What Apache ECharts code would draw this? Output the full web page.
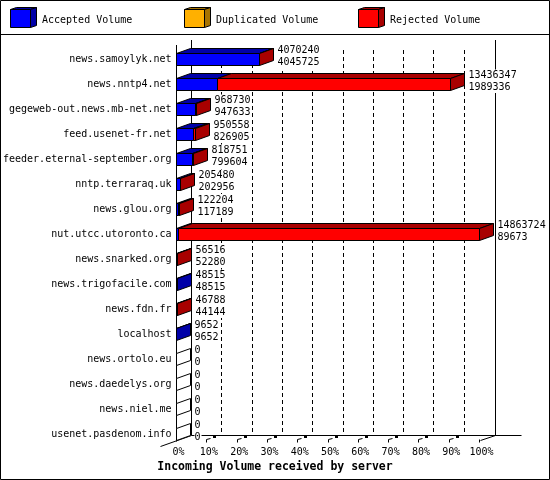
<!DOCTYPE html>
<html>
<head>
<meta charset="utf-8">
<script src="https://cdn.jsdelivr.net/npm/echarts@6/dist/echarts.min.js"></script>
<style>
html,body{margin:0;padding:0;background:#fff;}
#chart{width:550px;height:480px;}
</style>
</head>
<body>
<div id="chart"></div>
<script>
// ---- data ----
const hosts = [
  'news.samoylyk.net',
  'news.nntp4.net',
  'gegeweb-out.news.mb-net.net',
  'feed.usenet-fr.net',
  'feeder.eternal-september.org',
  'nntp.terraraq.uk',
  'news.glou.org',
  'nut.utcc.utoronto.ca',
  'news.snarked.org',
  'news.trigofacile.com',
  'news.fdn.fr',
  'localhost',
  'news.ortolo.eu',
  'news.daedelys.org',
  'news.niel.me',
  'usenet.pasdenom.info'
];
const totalVolume = [4070240, 13436347, 968730, 950558, 818751, 205480, 122204, 14863724, 56516, 48515, 46788, 9652, 0, 0, 0, 0];
const acceptedVolume = [4045725, 1989336, 947633, 826905, 799604, 202956, 117189, 89673, 52280, 48515, 44144, 9652, 0, 0, 0, 0];
const duplicatedVolume = [0, 0, 0, 0, 0, 0, 0, 0, 0, 0, 0, 0, 0, 0, 0, 0];
const seriesNames = ['Accepted Volume', 'Duplicated Volume', 'Rejected Volume'];
const tickLabels = ['0%', '10%', '20%', '30%', '40%', '50%', '60%', '70%', '80%', '90%', '100%'];
const axisTitle = 'Incoming Volume received by server';

// ---- styles ----
const frontColors = ['#0000ff', '#ffb000', '#ff0000'];
const darkColors = ['#0000a8', '#a87400', '#a80000'];
const FONT = '"DejaVu Sans Mono", "Liberation Mono", monospace';
const BAR_DX = 14, WALL_DX = 15, DY = 5, HALF = 6;

const rejectedVolume = totalVolume.map((t, i) => t - acceptedVolume[i] - duplicatedVolume[i]);
const maxV = Math.max.apply(null, totalVolume);
const barData = hosts.map((h, i) => [i, totalVolume[i], acceptedVolume[i], duplicatedVolume[i], rejectedVolume[i]]);

function crisp(v) { return Math.round(v - 0.5) + 0.5; }
const lineStyle = { stroke: '#000', lineWidth: 1 };

function renderFrame(params, api) {
  const cs = params.coordSys;
  const xAt = k => crisp(api.coord([maxV * k / 10, 0])[0]);
  const x0 = xAt(0), x10 = xAt(10);
  const floorF = api.coord([0, hosts.length - 1])[1] + HALF;
  const floorB = floorF - DY;
  const topB = cs.y - 7;
  const ch = [];
  const L = (x1, y1, x2, y2, extra) => ch.push({ type: 'line', shape: { x1, y1, x2, y2 }, style: Object.assign({}, lineStyle, extra || {}) });
  // dashed back grid lines
  for (let k = 1; k <= 9; k++) {
    const x = xAt(k) + WALL_DX;
    L(x, cs.y + 3, x, floorB, { lineDash: [4, 3] });
  }
  L(x0 + WALL_DX, topB, x0 + WALL_DX, floorB);           // back-left wall edge
  L(x10 + WALL_DX + 1, topB, x10 + WALL_DX + 1, floorB); // back-right wall edge
  L(x0 + WALL_DX, floorB, x10 + WALL_DX + 27, floorB);   // back floor line
  L(x0, cs.y - 2, x0, floorF + 1);                       // front-left edge
  L(x0 - 16, floorF + 6, x0 + WALL_DX, floorB);          // left floor diagonal
  L(x10 + 1, floorF, x10 + WALL_DX + 1, floorB);         // right floor diagonal
  // ticks
  for (let k = 1; k <= 10; k++) {
    const x = xAt(k);
    L(x, floorF + 2, x, floorF - 1);
    if (k < 10) {
      L(x, floorF - 1, x + 4, floorF - 2);
      ch.push({ type: 'rect', shape: { x: x + 6.5, y: floorF - 4.5, width: 3, height: 2 }, style: { fill: '#000' } });
    }
  }
  return { type: 'group', children: ch };
}

function renderBar(params, api) {
  const i = api.value(0);
  const total = api.value(1);
  const vals = [api.value(2), api.value(3), api.value(4)];
  const cy = api.coord([0, i])[1];
  const top = cy - HALF, bot = cy + HALF;
  const fronts = [], tops = [];
  let cum = 0, last = -1;
  for (let s = 0; s < 3; s++) {
    const xa = crisp(api.coord([cum, i])[0]);
    cum += vals[s];
    const xb = crisp(api.coord([cum, i])[0]);
    if (vals[s] > 0) {
      last = s;
      fronts.push({ type: 'polygon', shape: { points: [[xa, top], [xb, top], [xb, bot], [xa, bot]] },
        style: { fill: frontColors[s], stroke: '#000', lineWidth: 1 } });
      tops.push({ type: 'polygon', shape: { points: [[xa, top], [xb, top], [xb + BAR_DX, top - DY], [xa + BAR_DX, top - DY]] },
        style: { fill: darkColors[s], stroke: '#000', lineWidth: 1 } });
    }
  }
  const xe = crisp(api.coord([cum, i])[0]);
  const side = { type: 'polygon', shape: { points: [[xe, top], [xe + BAR_DX, top - DY], [xe + BAR_DX, bot - DY], [xe, bot]] },
    style: { fill: last >= 0 ? darkColors[last] : '#fff', stroke: '#000', lineWidth: 1 } };
  const lx = xe + BAR_DX + 4;
  const txt = (t, y) => ({ type: 'text', style: { text: t, x: lx, y: y, fill: '#000', font: '10px ' + FONT,
    align: 'left', verticalAlign: 'middle', backgroundColor: '#fff', padding: [1, 1, 1, 0] } });
  const labels = [txt(String(total), cy - 9), txt(String(vals[0]), cy + 2.5)];
  return { type: 'group', children: fronts.concat(tops, [side], labels) };
}

// legend drawn as 3D cubes
const legendX = [10, 184, 358];
const legendGraphics = [];
seriesNames.forEach((name, s) => {
  const x = legendX[s] + 0.5, y = 9.5;
  legendGraphics.push(
    { type: 'polygon', shape: { points: [[x, y], [x + 20, y], [x + 26, y - 2], [x + 6, y - 2]] }, style: { fill: darkColors[s], stroke: '#000', lineWidth: 1 } },
    { type: 'polygon', shape: { points: [[x + 20, y], [x + 26, y - 2], [x + 26, y + 16], [x + 20, y + 18]] }, style: { fill: darkColors[s], stroke: '#000', lineWidth: 1 } },
    { type: 'rect', shape: { x: x, y: y, width: 20, height: 18 }, style: { fill: frontColors[s], stroke: '#000', lineWidth: 1 } },
    { type: 'text', style: { text: name, x: legendX[s] + 32, y: 20, fill: '#000', font: '10px ' + FONT, align: 'left', verticalAlign: 'middle' } }
  );
});
legendGraphics.push(
  { type: 'rect', shape: { x: 0.5, y: 0.5, width: 549, height: 479 }, style: { fill: 'none', stroke: '#000', lineWidth: 1 }, z: 100 },
  { type: 'line', shape: { x1: 0, y1: 34.5, x2: 550, y2: 34.5 }, style: { stroke: '#000', lineWidth: 1 } }
);

const chart = echarts.init(document.getElementById('chart'), null, { renderer: 'canvas' });
chart.setOption({
  animation: false,
  backgroundColor: '#fff',
  title: {
    text: axisTitle, left: 'center', top: 461, padding: 0,
    textStyle: { fontFamily: FONT, fontSize: 11.5, fontWeight: 'bold', color: '#000' }
  },
  grid: { left: 176.5, width: 303, top: 47, height: 400 },
  xAxis: {
    type: 'value', min: 0, max: maxV, interval: maxV / 10,
    axisLine: { show: false }, axisTick: { show: false }, splitLine: { show: false },
    axisLabel: {
      formatter: v => tickLabels[Math.round(v / maxV * 10)],
      fontFamily: FONT, fontSize: 10, color: '#000', margin: 0, padding: [0, 0, 0, 4]
    }
  },
  yAxis: {
    type: 'category', inverse: true, data: hosts,
    axisLine: { show: false }, axisTick: { show: false }, splitLine: { show: false },
    axisLabel: { fontFamily: FONT, fontSize: 10, color: '#000', margin: 5 }
  },
  graphic: legendGraphics,
  series: [
    { type: 'custom', name: 'frame', z: 1, silent: true, renderItem: renderFrame, data: [[0, 0]], encode: { x: 1, y: 0 } },
    { type: 'custom', name: 'Volume', z: 2, renderItem: renderBar, data: barData, encode: { x: 1, y: 0 } }
  ]
});
</script>
</body>
</html>
